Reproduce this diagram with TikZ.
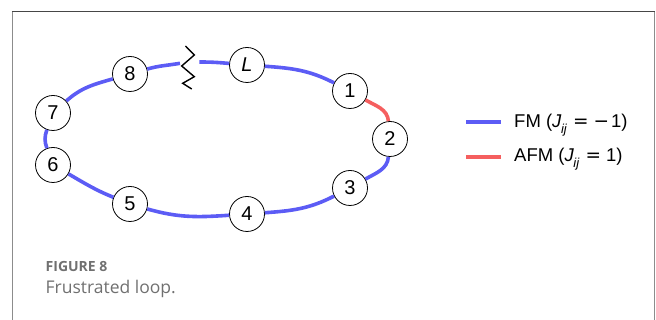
\documentclass[tikz,border=0pt]{standalone}
\usepackage{fontspec}
\setmainfont{Liberation Sans}
\newfontfamily\capfont{Open Sans}
\newfontfamily\symfont{DejaVu Sans}
\definecolor{fmblue}{RGB}{92,92,245}
\definecolor{afmred}{RGB}{245,95,95}
\definecolor{framedark}{RGB}{70,70,70}
\definecolor{framegray}{RGB}{140,140,140}
\definecolor{captiongray}{RGB}{112,112,112}
\newcommand{\Jij}{\textit{J}\hspace{-0.5pt}\raisebox{-0.3em}{\fontsize{13}{13}\selectfont\textit{ij}}}
\begin{document}
\begin{tikzpicture}[x=1pt,y=1pt,
  site/.style={circle,draw=black,line width=0.8pt,fill=white,minimum size=35pt,inner sep=0pt,font=\fontsize{20}{20}\selectfont},
  fm/.style={line width=3.6pt,draw=fmblue},
  afm/.style={line width=3.6pt,draw=afmred},
  legtext/.style={anchor=base west,inner sep=0pt,font=\fontsize{18.5}{18.5}\selectfont},
  captext/.style={anchor=base west,inner sep=0pt,text=captiongray}
]
\useasboundingbox (0,0) rectangle (656,320);
% frame
\draw[line width=1.3pt,framegray] (12.5,0) -- (12.5,308.3);
\draw[line width=1.3pt,framegray] (654.3,0) -- (654.3,308.3);
\draw[line width=1.3pt,framedark] (11.9,308.3) -- (654.9,308.3);
% sites
\node[site] (n8) at (130,246) {8};
\node[site] (nL) at (247,255) {\textit{L}};
\node[site] (n1) at (350,229) {1};
\node[site] (n2) at (390,181) {2};
\node[site] (n3) at (350,132) {3};
\node[site] (n4) at (247,106) {4};
\node[site] (n5) at (130,116) {5};
\node[site] (n6) at (53,155) {6};
\node[site] (n7) at (53,207) {7};
\coordinate (bkl) at (180,256.7);
\coordinate (bkr) at (199.3,258);
% bonds
\draw[fm] (n8) to[out=16,in=190] (bkl);
\draw[fm] (bkr) to[out=0,in=175] (nL);
\draw[fm] (nL) to[out=-4,in=153] (n1);
\draw[afm] (n1) to[out=-30,in=95] (n2);
\draw[fm] (n2) to[out=-95,in=30] (n3);
\draw[fm] (n3) to[out=-153,in=4] (n4);
\draw[fm] (n4) to[out=184,in=-16] (n5);
\draw[fm] (n5) to[out=158,in=-30] (n6);
\draw[fm] (n6) to[out=110,in=250] (n7);
\draw[fm] (n7) to[out=42,in=196] (n8);
% break
\draw[line width=1.4pt,black,line join=miter] (185.5,274) -- (194.3,265) -- (181.7,254) -- (194.3,243.3) -- (182.7,236.7) -- (191.7,231);
% legend
\coordinate (lb1) at (466,198);
\coordinate (lb2) at (501,198);
\coordinate (lr1) at (466,163.3);
\coordinate (lr2) at (501,163.3);
\draw[line width=4.2pt,fmblue] (lb1) -- (lb2);
\draw[line width=4.2pt,afmred] (lr1) -- (lr2);
\node[legtext] (tfm) at (514,192.5) {FM (\Jij\hspace{6pt}{\symfont =}\hspace{5pt}{\symfont −}\hspace{2pt}1)};
\node[legtext] (tafm) at (514,158.3) {AFM (\Jij\hspace{6pt}{\symfont =}\hspace{5pt}1)};
% caption
\node[captext,font=\capfont\bfseries\fontsize{14}{14}\selectfont] (fig) at (45.5,48.3) {FIGURE 8};
\node[captext,font=\capfont\fontsize{17.5}{17.5}\selectfont] (ttl) at (45.5,26) {Frustrated loop.};
\end{tikzpicture}
\end{document}
